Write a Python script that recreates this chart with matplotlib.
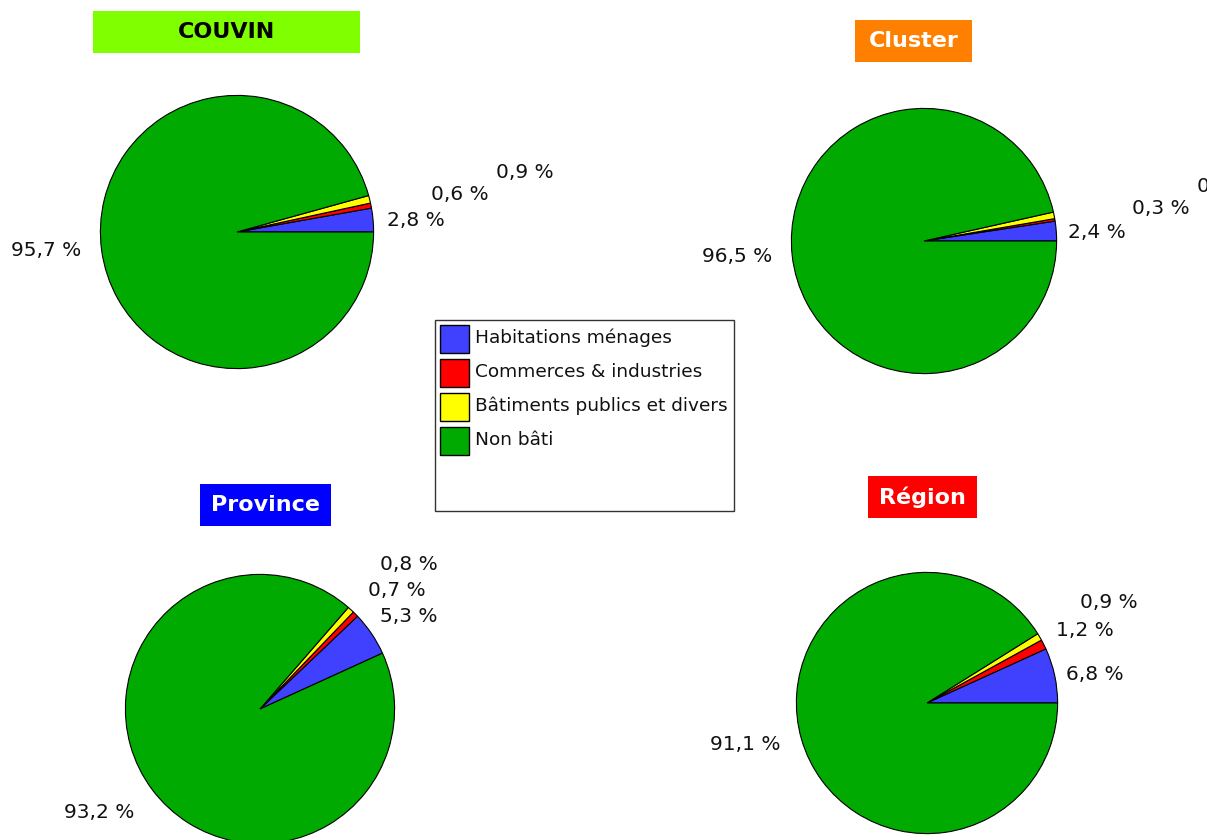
import matplotlib
matplotlib.use("Agg")
import matplotlib.pyplot as plt
from matplotlib.patches import Rectangle

W, H = 1207, 840

# data
categories = ["Habitations ménages", "Commerces & industries",
              "Bâtiments publics et divers", "Non bâti"]
couvin = [2.8, 0.6, 0.9, 95.7]
cluster = [2.4, 0.3, 0.8, 96.5]
province = [5.3, 0.7, 0.8, 93.2]
region = [6.8, 1.2, 0.9, 91.1]
titles = ["COUVIN", "Cluster", "Province", "Région"]

colors = ["#4040FF", "#FF0000", "#FFFF00", "#00AA00"]

# layout (pixels, y from top)
pies = [
    # values, center, radius, start angle, title box (x0, y0, x1, y1), box color, text color, label positions
    (couvin, (237, 232), 137, 0, (93, 11, 360, 53), "#80FF00", "black",
     [(416, 220), (460, 195), (525, 173), (46, 251)]),
    (cluster, (924, 241), 133, 0, (855, 20, 972, 62), "#FF8000", "white",
     [(1097, 233), (1161, 209), (1226, 187), (737, 257)]),
    (province, (260, 709), 135, 24.5, (200, 484, 331, 526), "#0000FF", "white",
     [(409, 616), (397, 590), (409, 565), (99, 812)]),
    (region, (927, 703), 131, 0, (868, 476, 977, 518), "#FF0000", "white",
     [(1095, 675), (1085, 630), (1109, 603), (745, 745)]),
]

fig = plt.figure(figsize=(W / 100, H / 100), dpi=100)
fig.patch.set_facecolor("white")


def fx(x):
    return x / W


def fy(y):
    return 1 - y / H


def fmt(v):
    return "{:.1f} %".format(v).replace(".", ",")


for (vals, (cx, cy), r, a0, box, bcol, tcol, lpos), title in zip(pies, titles):
    ax = fig.add_axes([fx(cx - r), fy(cy + r), 2 * r / W, 2 * r / H])
    ax.pie(vals, colors=colors, startangle=a0, counterclock=True,
           wedgeprops=dict(edgecolor="black", linewidth=0.8))
    ax.set_xlim(-1.003, 1.003)
    ax.set_ylim(-1.003, 1.003)
    ax.set_aspect("auto")
    ax.axis("off")

    for v, (lx, ly) in zip(vals, lpos):
        fig.text(fx(lx), fy(ly), fmt(v), ha="center", va="center",
                 fontsize=14.5, color="#111111")

    x0, y0, x1, y1 = box
    fig.patches.append(Rectangle((fx(x0), fy(y1)), fx(x1 - x0), (y1 - y0) / H,
                                 transform=fig.transFigure, facecolor=bcol,
                                 edgecolor="none"))
    fig.text(fx((x0 + x1) / 2), fy((y0 + y1) / 2), title, ha="center",
             va="center", fontsize=16, fontweight="bold", color=tcol)

# legend drawn by hand
fig.patches.append(Rectangle((fx(435), fy(511)), fx(734 - 435), (511 - 320) / H,
                             transform=fig.transFigure, facecolor="white",
                             edgecolor="#333333", linewidth=1))
for i, (lab, col) in enumerate(zip(categories, colors)):
    ytop = 325 + i * 34
    fig.patches.append(Rectangle((fx(440), fy(ytop + 28)), fx(29), 28 / H,
                                 transform=fig.transFigure, facecolor=col,
                                 edgecolor="black", linewidth=1))
    fig.text(fx(475), fy(ytop + 13), lab, ha="left", va="center",
             fontsize=13.3, color="#111111")

fig.savefig("out.png", dpi=100)
